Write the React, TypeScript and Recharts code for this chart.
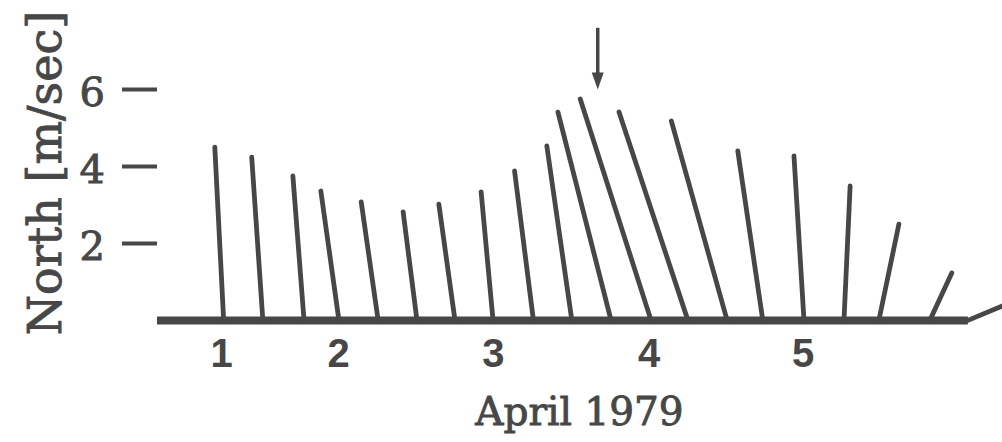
import React from "react";
import { ComposedChart, Line, XAxis, YAxis, ReferenceLine } from "recharts";

// 6-hourly wind sticks: base position (sample index), east and north components in m/sec
const sampleTimes = [0, 1, 2.05, 2.94, 3.94, 4.93, 5.9, 6.87, 7.9, 8.88, 9.88, 10.9, 11.84, 12.84, 13.75, 14.8, 15.82, 16.71, 18.01, 18.98];
const eastWind = [-0.23, -0.29, -0.29, -0.47, -0.44, -0.36, -0.42, -0.31, -0.49, -0.65, -1.38, -1.84, -1.79, -1.45, -0.65, -0.26, 0.16, 0.52, 0.57, 1.0];
const northWind = [4.5, 4.24, 3.75, 3.36, 3.08, 2.82, 3.02, 3.34, 3.88, 4.53, 5.41, 5.75, 5.41, 5.18, 4.4, 4.27, 3.49, 2.5, 1.23, 0.42];

const dayTicks = [-0.05, 2.93, 6.88, 10.85, 14.78];
const dayLabels = ["1", "2", "3", "4", "5"];
const northTicks = [2, 4, 6];

// arrow marking the peak
const peakTime = 9.54;
const peakArrow = [7.6, 6.0];

const WIDTH = 1002;
const HEIGHT = 442;
const MARGIN = { top: 22, right: 0, bottom: 0, left: 0 };
const Y_AXIS_W = 157;
const X_AXIS_H = 112;
const X_DOMAIN: [number, number] = [-1.7, 19.85];
const Y_DOMAIN: [number, number] = [-0.25, 7.75];
const INK = "#474747";
const SERIF = "'DejaVu Serif', serif";
// a thin outline gives the serif text a heavier print look
const HEAVY = { stroke: INK, strokeWidth: 0.9 };

// keep the sticks isotropic: one m/sec across equals one m/sec up
const plotW = WIDTH - Y_AXIS_W - MARGIN.left - MARGIN.right;
const plotH = HEIGHT - X_AXIS_H - MARGIN.top - MARGIN.bottom;
const xPerMps = (plotH / (Y_DOMAIN[1] - Y_DOMAIN[0])) / (plotW / (X_DOMAIN[1] - X_DOMAIN[0]));

const sticks = sampleTimes.map((t, i) => [
  { x: t, y: 0 },
  { x: t + eastWind[i] * xPerMps, y: northWind[i] },
]);

const axisLine = [
  { x: X_DOMAIN[0], y: 0 },
  { x: sampleTimes[sampleTimes.length - 1], y: 0 },
];

const Arrow = (p: any) => {
  const { x1, y1, x2, y2 } = p;
  return (
    <g>
      <line x1={x1} y1={y1} x2={x2} y2={y2 - 12} stroke={INK} strokeWidth={3.5} />
      <polygon points={`${x2 - 6},${y2 - 17} ${x2 + 6},${y2 - 17} ${x2},${y2}`} fill={INK} />
    </g>
  );
};

const NorthTitle = ({ viewBox }: any) => {
  const x = viewBox.x + 61;
  const y = viewBox.y + viewBox.height / 2 - 3;
  return (
    <text
      x={x}
      y={y}
      transform={`rotate(-90 ${x} ${y})`}
      textAnchor="middle"
      fill={INK}
      fontSize={46}
      fontFamily={SERIF}
      {...HEAVY}
    >
      North [m/sec]
    </text>
  );
};

export default function App() {
  return (
    <div style={{ position: "absolute", left: 0, top: 0, background: "#fff" }}>
      <ComposedChart width={WIDTH} height={HEIGHT} margin={MARGIN}>
        <XAxis
          type="number"
          dataKey="x"
          domain={X_DOMAIN}
          allowDataOverflow
          ticks={dayTicks}
          interval={0}
          tickFormatter={(v: number) => dayLabels[dayTicks.indexOf(v)]}
          axisLine={false}
          tickLine={false}
          tickSize={0}
          tickMargin={9}
          height={X_AXIS_H}
          tick={{ fill: INK, fontSize: 40, fontFamily: "'Liberation Sans', sans-serif", fontWeight: 700 }}
          label={{
            value: "April 1979",
            position: "insideBottom",
            offset: 17,
            fill: INK,
            fontSize: 39,
            fontFamily: SERIF,
            ...HEAVY,
          }}
        />
        <YAxis
          type="number"
          dataKey="y"
          domain={Y_DOMAIN}
          ticks={northTicks}
          interval={0}
          width={Y_AXIS_W}
          axisLine={false}
          tickSize={35}
          tickMargin={17}
          tickLine={{ stroke: INK, strokeWidth: 4 }}
          tick={{ fill: INK, fontSize: 40, fontFamily: SERIF, dy: 2, ...HEAVY }}
          label={(props: any) => <NorthTitle {...props} />}
        />
        <Line
          data={axisLine}
          dataKey="y"
          stroke={INK}
          strokeWidth={8}
          dot={false}
          isAnimationActive={false}
        />
        {sticks.map((s, i) => (
          <Line
            key={`stick-${i}`}
            data={s}
            dataKey="y"
            stroke={INK}
            strokeWidth={4.8}
            strokeLinecap="round"
            dot={false}
            isAnimationActive={false}
          />
        ))}
        <ReferenceLine
          segment={[
            { x: peakTime, y: peakArrow[0] },
            { x: peakTime, y: peakArrow[1] },
          ]}
          ifOverflow="visible"
          shape={(p: any) => <Arrow {...p} />}
        />
      </ComposedChart>
    </div>
  );
}
